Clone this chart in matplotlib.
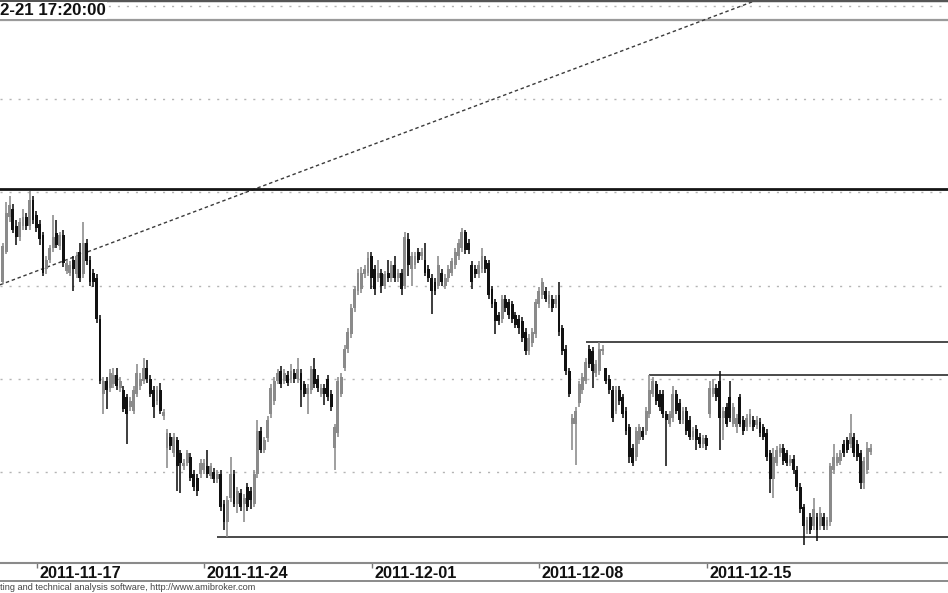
import numpy as np
import matplotlib
matplotlib.use('Agg')
from matplotlib import pyplot as plt
from matplotlib.lines import Line2D

plt.rcParams['font.family'] = ['Liberation Sans', 'DejaVu Sans']

# trading sessions shown (the first one only has its last bar in view)
SESSIONS = ['2011-11-15', '2011-11-16', '2011-11-17', '2011-11-18', '2011-11-21',
            '2011-11-22', '2011-11-23', '2011-11-24', '2011-11-25', '2011-11-28',
            '2011-11-29', '2011-11-30', '2011-12-01', '2011-12-02', '2011-12-05',
            '2011-12-06', '2011-12-07', '2011-12-08', '2011-12-09', '2011-12-12',
            '2011-12-13', '2011-12-14', '2011-12-15', '2011-12-16', '2011-12-19',
            '2011-12-20', '2011-12-21']
BARS_PER_SESSION = [1, 10, 10, 10, 10, 10, 10, 10, 10, 10, 10, 10, 10, 10,
                    10, 10, 10, 10, 10, 10, 10, 10, 10, 10, 10, 10, 9]

TICK_LABELS = ['2011-11-17', '2011-11-24', '2011-12-01', '2011-12-08', '2011-12-15']
TITLE = '2-21 17:20:00'
FOOTER = 'ting and technical analysis software, http://www.amibroker.com'

GRID_LEVELS = [2150, 2200, 2250, 2300, 2350, 2400]
TOP_LINE = 2392.5
RESISTANCE = 2302
SUPPORT = (63, 2115.3)      # (start bar, level)
LEVEL_1 = (173, 2220)
LEVEL_2 = (192, 2202.3)
TREND = [(-1, 2251.0), (224, 2403.1)]

opens = [
    2252,
    2268, 2287, 2291, 2282, 2276, 2282, 2287, 2282, 2296, 2288,
    2283, 2277, 2259, 2264, 2270, 2278, 2271, 2277, 2258, 2257,
    2264, 2256, 2268, 2256, 2273, 2264, 2257, 2254, 2232, 2192,
    2199, 2195, 2197, 2202, 2195, 2194, 2190, 2185, 2183, 2192,
    2196, 2199, 2206, 2200, 2194, 2188, 2194, 2180, 2163, 2169,
    2160, 2167, 2160, 2153, 2155, 2158, 2149, 2147, 2149, 2151,
    2153, 2148, 2150, 2146, 2149, 2133, 2123, 2136, 2149, 2133,
    2139, 2133, 2142, 2140, 2133, 2149, 2172, 2162, 2168, 2181,
    2188, 2199, 2204, 2199, 2202, 2200, 2203, 2200, 2203, 2197,
    2192, 2194, 2205, 2200, 2192, 2195, 2200, 2192, 2163, 2171,
    2192, 2206, 2216, 2224, 2238, 2247, 2248, 2256, 2257, 2266,
    2259, 2254, 2257, 2250, 2257, 2254, 2261, 2254, 2257, 2250,
    2275, 2259, 2261, 2268, 2266, 2264, 2259, 2254, 2252, 2250,
    2257, 2250, 2254, 2257, 2261, 2266, 2270, 2279, 2273, 2261,
    2259, 2256, 2259, 2264, 2262, 2248, 2241, 2234, 2232, 2243,
    2241, 2240, 2234, 2232, 2231, 2225, 2215, 2219, 2224, 2240,
    2245, 2247, 2240, 2243, 2240, 2245, 2227, 2216, 2204, 2176,
    2176, 2187, 2194, 2199, 2216, 2215, 2203, 2204, 2215, 2206,
    2200, 2194, 2183, 2194, 2190, 2183, 2174, 2163, 2158, 2167,
    2172, 2172, 2181, 2192, 2197, 2192, 2192, 2181, 2176, 2179,
    2192, 2187, 2178, 2183, 2178, 2169, 2173, 2169, 2165, 2168,
    2181, 2192, 2195, 2199, 2179, 2185, 2190, 2176, 2174, 2190,
    2178, 2174, 2176, 2178, 2175, 2177, 2174, 2171, 2160, 2146,
    2155, 2160, 2163, 2160, 2155, 2157, 2151, 2142, 2131, 2119,
    2126, 2121, 2126, 2121, 2126, 2121, 2123, 2151, 2155, 2156,
    2165, 2167, 2165, 2169, 2165, 2160, 2144, 2151, 2161,
]
highs = [
    2273,
    2295, 2298, 2294, 2285, 2286, 2291, 2289, 2301, 2298, 2290,
    2285, 2279, 2266, 2272, 2288, 2285, 2279, 2280, 2264, 2263,
    2266, 2268, 2273, 2284, 2275, 2266, 2259, 2256, 2234, 2201,
    2201, 2205, 2206, 2206, 2201, 2196, 2192, 2190, 2196, 2208,
    2203, 2211, 2210, 2202, 2196, 2196, 2198, 2184, 2173, 2171,
    2171, 2169, 2162, 2157, 2162, 2160, 2151, 2149, 2157, 2157,
    2162, 2155, 2152, 2151, 2151, 2135, 2137, 2158, 2151, 2142,
    2141, 2138, 2144, 2142, 2151, 2178, 2174, 2169, 2180, 2197,
    2201, 2205, 2207, 2205, 2204, 2208, 2205, 2211, 2205, 2199,
    2197, 2207, 2211, 2202, 2197, 2197, 2202, 2194, 2176, 2201,
    2203, 2218, 2227, 2240, 2250, 2259, 2260, 2261, 2268, 2268,
    2261, 2264, 2259, 2258, 2264, 2263, 2266, 2259, 2259, 2279,
    2278, 2268, 2268, 2270, 2270, 2273, 2261, 2256, 2254, 2266,
    2259, 2256, 2261, 2265, 2270, 2275, 2281, 2280, 2275, 2263,
    2261, 2263, 2270, 2266, 2264, 2250, 2243, 2236, 2245, 2245,
    2243, 2242, 2236, 2234, 2233, 2227, 2224, 2227, 2243, 2249,
    2254, 2249, 2247, 2245, 2245, 2252, 2229, 2218, 2206, 2181,
    2185, 2199, 2203, 2211, 2218, 2217, 2210, 2220, 2218, 2206,
    2202, 2196, 2196, 2196, 2192, 2185, 2176, 2165, 2174, 2176,
    2174, 2185, 2202, 2201, 2199, 2194, 2194, 2183, 2183, 2196,
    2194, 2189, 2185, 2185, 2180, 2174, 2175, 2171, 2170, 2170,
    2199, 2200, 2197, 2204, 2185, 2187, 2199, 2187, 2181, 2192,
    2180, 2181, 2184, 2180, 2180, 2179, 2176, 2173, 2162, 2163,
    2164, 2165, 2165, 2162, 2159, 2159, 2153, 2144, 2133, 2126,
    2128, 2136, 2128, 2131, 2128, 2126, 2155, 2165, 2160, 2162,
    2167, 2169, 2181, 2171, 2167, 2162, 2158, 2166, 2165,
]
lows = [
    2251,
    2267, 2284, 2278, 2272, 2274, 2280, 2280, 2280, 2283, 2279,
    2272, 2255, 2256, 2262, 2268, 2270, 2269, 2260, 2256, 2255,
    2247, 2254, 2252, 2254, 2261, 2250, 2249, 2230, 2197, 2181,
    2184, 2193, 2195, 2194, 2193, 2182, 2165, 2183, 2181, 2190,
    2194, 2197, 2198, 2190, 2179, 2186, 2181, 2178, 2152, 2162,
    2158, 2140, 2139, 2151, 2153, 2145, 2140, 2137, 2147, 2149,
    2147, 2146, 2144, 2144, 2129, 2119, 2115, 2134, 2131, 2128,
    2129, 2123, 2129, 2130, 2131, 2147, 2160, 2160, 2166, 2179,
    2186, 2197, 2195, 2197, 2196, 2198, 2198, 2198, 2185, 2190,
    2181, 2192, 2195, 2193, 2190, 2186, 2188, 2183, 2151, 2169,
    2190, 2204, 2214, 2222, 2236, 2245, 2246, 2254, 2255, 2248,
    2245, 2252, 2246, 2248, 2252, 2252, 2252, 2252, 2245, 2248,
    2255, 2250, 2259, 2262, 2264, 2255, 2252, 2235, 2245, 2248,
    2250, 2248, 2252, 2255, 2259, 2264, 2268, 2267, 2267, 2248,
    2254, 2254, 2257, 2257, 2243, 2238, 2224, 2229, 2230, 2236,
    2232, 2230, 2227, 2224, 2220, 2213, 2213, 2217, 2222, 2238,
    2243, 2241, 2238, 2236, 2238, 2223, 2213, 2202, 2190, 2162,
    2154, 2185, 2192, 2197, 2206, 2195, 2201, 2202, 2213, 2197,
    2192, 2177, 2181, 2186, 2179, 2170, 2155, 2153, 2156, 2165,
    2167, 2170, 2179, 2190, 2186, 2183, 2179, 2153, 2174, 2177,
    2181, 2176, 2176, 2170, 2167, 2167, 2162, 2163, 2163, 2162,
    2179, 2190, 2188, 2162, 2167, 2174, 2177, 2174, 2171, 2174,
    2170, 2172, 2174, 2172, 2173, 2169, 2167, 2156, 2139, 2136,
    2153, 2158, 2154, 2153, 2153, 2149, 2140, 2128, 2111, 2117,
    2117, 2119, 2113, 2119, 2119, 2119, 2121, 2149, 2153, 2154,
    2158, 2160, 2163, 2158, 2156, 2141, 2141, 2149, 2159,
]
closes = [
    2271,
    2289, 2293, 2280, 2276, 2284, 2287, 2282, 2296, 2285, 2281,
    2275, 2257, 2264, 2270, 2276, 2272, 2277, 2262, 2262, 2261,
    2259, 2266, 2254, 2273, 2263, 2252, 2252, 2232, 2199, 2199,
    2194, 2203, 2202, 2196, 2199, 2184, 2181, 2188, 2194, 2203,
    2200, 2206, 2200, 2192, 2185, 2194, 2183, 2182, 2171, 2164,
    2169, 2153, 2155, 2155, 2160, 2147, 2142, 2140, 2155, 2155,
    2149, 2153, 2146, 2149, 2131, 2123, 2135, 2149, 2133, 2140,
    2131, 2136, 2131, 2135, 2149, 2172, 2162, 2167, 2178, 2195,
    2199, 2203, 2197, 2203, 2198, 2204, 2200, 2205, 2194, 2192,
    2195, 2205, 2197, 2195, 2195, 2192, 2190, 2185, 2174, 2199,
    2201, 2216, 2225, 2238, 2248, 2257, 2257, 2259, 2265, 2254,
    2248, 2257, 2250, 2256, 2254, 2261, 2254, 2257, 2248, 2276,
    2261, 2266, 2266, 2264, 2268, 2257, 2254, 2247, 2247, 2261,
    2252, 2254, 2259, 2263, 2268, 2273, 2279, 2269, 2269, 2252,
    2256, 2261, 2266, 2259, 2245, 2240, 2231, 2231, 2243, 2238,
    2234, 2232, 2229, 2227, 2222, 2215, 2222, 2225, 2241, 2247,
    2252, 2243, 2245, 2238, 2243, 2225, 2215, 2204, 2192, 2179,
    2183, 2197, 2201, 2209, 2208, 2204, 2208, 2216, 2216, 2199,
    2194, 2179, 2194, 2188, 2181, 2172, 2158, 2155, 2172, 2174,
    2169, 2183, 2194, 2199, 2188, 2185, 2181, 2178, 2181, 2192,
    2183, 2178, 2183, 2172, 2169, 2172, 2167, 2165, 2168, 2164,
    2195, 2195, 2190, 2179, 2183, 2176, 2179, 2185, 2179, 2176,
    2172, 2179, 2181, 2174, 2178, 2171, 2169, 2158, 2146, 2158,
    2162, 2163, 2156, 2155, 2157, 2151, 2142, 2130, 2121, 2124,
    2119, 2130, 2119, 2128, 2121, 2124, 2153, 2158, 2158, 2160,
    2160, 2162, 2171, 2160, 2158, 2144, 2156, 2163, 2163,
]

o = np.array(opens, dtype=float)
h = np.array(highs, dtype=float)
l = np.array(lows, dtype=float)
c = np.array(closes, dtype=float)
x = np.arange(len(c)) - 1          # bar -1 is the last bar of 2011-11-15

session_start = np.concatenate([[0], np.cumsum(BARS_PER_SESSION)[:-1]]) - 1

fig = plt.figure(figsize=(9.48, 5.93), dpi=100)
ax = fig.add_axes([0, 30 / 593, 1, 563 / 593])
ax.set_xlim(-1.85, 281.1)
ax.set_ylim(2101.2, 2403.2)

# grid
for g in GRID_LEVELS:
    ax.axhline(g, color='#b4b4b4', lw=1.0, ls=(0, (1.5, 5)), zorder=1)
ax.axhline(TOP_LINE, color='#9a9a9a', lw=1.6, zorder=2)

# drawn studies
x0, x1 = ax.get_xlim()
(ta, pa), (tb, pb) = TREND
slope = (pb - pa) / (tb - ta)
ax.plot([x0, x1], [pa + slope * (x0 - ta), pa + slope * (x1 - ta)],
        color='#3a3a3a', lw=1.0, ls=(0, (2.5, 2)), zorder=2)
ax.axhline(RESISTANCE, color='#151515', lw=2.0, zorder=3)
for start, level in (SUPPORT, LEVEL_1, LEVEL_2):
    ax.hlines(level, start, x1, color='#4a4a4a', lw=1.4, zorder=3)

# candles
up = c >= o
colors = np.where(up, '#8a8a8a', '#111111')
ax.vlines(x, l, h, colors=colors, lw=1.15, zorder=4)
ax.bar(x, np.maximum(np.abs(c - o), 1.0), width=0.86,
       bottom=np.minimum(o, c), color=colors, zorder=5)

# axes frame
for side in ('left', 'right'):
    ax.spines[side].set_visible(False)
ax.spines['top'].set_color('#555555')
ax.spines['top'].set_linewidth(2.5)
ax.spines['bottom'].set_color('#8a8a8a')
ax.spines['bottom'].set_linewidth(1.5)
ax.set_yticks([])

ticks = [session_start[SESSIONS.index(d)] - 0.9 for d in TICK_LABELS]
ax.set_xticks(ticks)
ax.set_xticklabels([])
ax.tick_params(axis='x', direction='out', length=3.6, width=1, color='#777777')
for t, lab in zip(ticks, TICK_LABELS):
    ax.annotate(lab, xy=(t, 0), xycoords=('data', 'axes fraction'),
                xytext=(1.8, -10.6), textcoords='offset points',
                ha='left', va='baseline', fontsize=11.7, fontweight='bold',
                color='#111111', annotation_clip=False)

fig.text(0.0, 1 - 3 / 593, TITLE, ha='left', va='top', fontsize=12.2,
         fontweight='bold', color='#111111',
         bbox=dict(facecolor='white', edgecolor='none', pad=0.5))

fig.add_artist(Line2D([0, 1], [12 / 593, 12 / 593], color='#8a8a8a', lw=1.4))
fig.text(0.0, 3.0 / 593, FOOTER, ha='left', va='baseline', fontsize=6.6,
         color='#444444')

fig.savefig('out.png', dpi=100)
